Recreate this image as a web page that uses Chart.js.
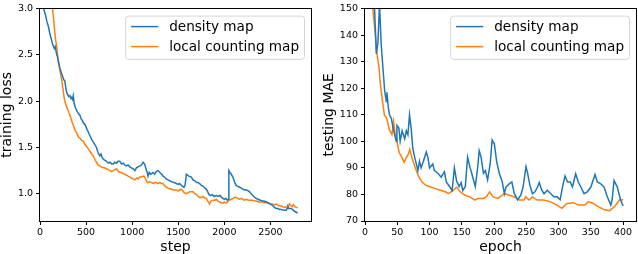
<!DOCTYPE html>
<html>
<head>
<meta charset="utf-8">
<script src="https://cdn.jsdelivr.net/npm/chart.js@4.4.1/dist/chart.umd.min.js"></script>
<style>
  html, body { margin: 0; padding: 0; background: #fff; }
  #wrap { position: relative; width: 638px; height: 254px; overflow: hidden; }
  #lossChart { position: absolute; left: 0; top: 0; }
  #maeChart { position: absolute; left: 318px; top: 0; }
</style>
</head>
<body>
<div id="wrap">
  <canvas id="lossChart" width="318" height="254"></canvas>
  <canvas id="maeChart" width="320" height="254"></canvas>
</div>
<script>
// series names
const seriesNames = ['density map', 'local counting map'];
const seriesColors = ['#1f77b4', '#ff7f0e'];

// left panel: training loss vs step, [step, loss]
const densityLoss = [
  [0,3.30],[20,3.12],[40,3.00],[60,2.93],[75,2.86],[90,2.81],[105,2.74],[120,2.68],[135,2.62],[144,2.60],
  [155,2.57],[165,2.59],[180,2.51],[195,2.46],[205,2.41],[216,2.36],[230,2.31],[245,2.27],[258,2.23],[270,2.22],
  [280,2.14],[289,2.10],[300,2.07],[312,2.05],[325,2.06],[335,2.03],[343,2.04],[352,2.02],[361,2.06],[370,1.98],
  [380,1.94],[397,1.90],[410,1.88],[422,1.86],[433,1.85],[445,1.81],[460,1.79],[475,1.76],[487,1.75],[500,1.72],
  [512,1.69],[523,1.67],[535,1.64],[550,1.61],[565,1.58],[577,1.56],[590,1.54],[600,1.52],[613,1.50],[625,1.46],
  [637,1.43],[649,1.41],[662,1.43],[675,1.39],[690,1.37],[705,1.36],[721,1.35],[740,1.33],[760,1.34],[778,1.32],
  [794,1.32],[810,1.34],[830,1.33],[845,1.35],[866,1.35],[885,1.32],[905,1.33],[920,1.31],[938,1.30],[955,1.31],
  [975,1.29],[990,1.28],[1010,1.27],[1030,1.25],[1046,1.28],[1065,1.29],[1085,1.30],[1100,1.31],[1118,1.34],[1135,1.32],
  [1150,1.27],[1165,1.22],[1172,1.19],[1185,1.23],[1200,1.21],[1215,1.22],[1227,1.23],[1245,1.21],[1260,1.24],[1281,1.25],
  [1300,1.23],[1320,1.21],[1335,1.19],[1350,1.18],[1370,1.16],[1390,1.15],[1407,1.14],[1425,1.13],[1445,1.12],[1460,1.12],
  [1479,1.11],[1500,1.10],[1515,1.11],[1533,1.09],[1548,1.08],[1562,1.07],[1575,1.10],[1588,1.21],[1600,1.20],[1615,1.19],
  [1642,1.18],[1660,1.15],[1680,1.14],[1700,1.12],[1715,1.12],[1732,1.11],[1750,1.09],[1770,1.08],[1790,1.06],[1804,1.05],
  [1820,1.02],[1835,0.99],[1850,0.98],[1870,0.99],[1890,0.97],[1913,0.98],[1935,0.97],[1955,0.98],[1970,0.96],[1985,0.95],
  [2000,0.94],[2015,0.95],[2031,0.93],[2042,0.94],[2049,1.25],[2060,1.23],[2075,1.21],[2092,1.18],[2110,1.13],[2128,1.09],
  [2145,1.08],[2165,1.07],[2185,1.06],[2200,1.05],[2220,1.04],[2240,1.04],[2260,1.03],[2273,1.02],[2290,1.00],[2310,0.98],
  [2330,0.96],[2345,0.95],[2365,0.94],[2390,0.93],[2410,0.92],[2430,0.92],[2453,0.91],[2475,0.90],[2495,0.89],[2515,0.88],
  [2535,0.86],[2561,0.84],[2580,0.84],[2600,0.83],[2620,0.83],[2645,0.82],[2670,0.82],[2682,0.84],[2690,0.86],[2700,0.84],
  [2720,0.84],[2740,0.83],[2760,0.81],[2780,0.80],[2796,0.79]
];
const localLoss = [
  [120,3.20],[137,3.00],[150,2.86],[160,2.75],[170,2.66],[180,2.60],[190,2.50],[198,2.42],[210,2.36],[222,2.30],
  [234,2.24],[245,2.16],[255,2.09],[263,2.03],[275,1.98],[289,1.94],[300,1.91],[312,1.88],[325,1.85],[340,1.80],
  [350,1.77],[361,1.74],[375,1.70],[385,1.68],[397,1.66],[410,1.63],[420,1.61],[433,1.60],[450,1.58],[469,1.57],
  [485,1.54],[505,1.51],[520,1.49],[541,1.46],[555,1.44],[565,1.42],[577,1.41],[590,1.38],[600,1.36],[613,1.34],
  [630,1.31],[649,1.30],[665,1.29],[685,1.28],[700,1.28],[721,1.27],[740,1.26],[760,1.25],[775,1.24],[794,1.25],
  [812,1.26],[830,1.27],[850,1.24],[868,1.23],[884,1.23],[900,1.22],[920,1.21],[940,1.20],[956,1.19],[975,1.18],
  [990,1.17],[1010,1.16],[1030,1.15],[1050,1.17],[1065,1.16],[1082,1.18],[1100,1.18],[1118,1.19],[1130,1.19],[1145,1.16],
  [1160,1.13],[1172,1.12],[1190,1.13],[1210,1.12],[1230,1.11],[1245,1.12],[1263,1.12],[1280,1.11],[1300,1.12],[1320,1.11],
  [1335,1.11],[1350,1.09],[1370,1.07],[1390,1.06],[1407,1.05],[1425,1.05],[1445,1.04],[1460,1.04],[1479,1.04],[1500,1.03],
  [1515,1.04],[1533,1.05],[1550,1.03],[1565,1.01],[1588,1.00],[1605,1.01],[1625,1.02],[1645,1.02],[1660,1.02],[1680,1.00],
  [1700,0.99],[1715,0.97],[1732,0.96],[1750,0.96],[1770,0.97],[1790,0.95],[1804,0.95],[1820,0.92],[1840,0.89],[1855,0.92],
  [1875,0.93],[1895,0.93],[1913,0.94],[1930,0.92],[1950,0.91],[1970,0.90],[1985,0.90],[2000,0.91],[2020,0.90],[2040,0.92],
  [2057,0.93],[2075,0.94],[2095,0.95],[2110,0.96],[2128,0.96],[2145,0.95],[2165,0.94],[2185,0.95],[2200,0.94],[2220,0.93],
  [2240,0.94],[2260,0.93],[2285,0.93],[2309,0.93],[2330,0.92],[2350,0.92],[2375,0.91],[2400,0.91],[2417,0.91],[2440,0.90],
  [2460,0.91],[2480,0.90],[2500,0.89],[2525,0.89],[2545,0.88],[2565,0.89],[2590,0.87],[2610,0.87],[2633,0.86],[2650,0.85],
  [2665,0.86],[2680,0.85],[2695,0.87],[2706,0.89],[2720,0.87],[2735,0.86],[2750,0.88],[2765,0.86],[2780,0.85],[2796,0.85]
];
const lossXTicks = [0, 500, 1000, 1500, 2000, 2500];
const lossYTicks = [1.0, 1.5, 2.0, 2.5, 3.0];

// right panel: testing MAE vs epoch, [epoch, mae]
const densityMae = [
  [5,190],[10,165],[15,149],[17.5,133],[20,137],[22.5,152],[25,137],[28,127],[30.5,119],[33,115],
  [34,118.5],[36,113],[38,110],[41,108.5],[43.5,105],[46,102.5],[48.5,100],[49.5,106],[52.5,105],[54.5,100],
  [57.5,104],[61.5,101],[64,104],[66.5,102.5],[69,110],[71.5,105],[74,97.5],[77,94],[79.5,91.5],[82,89],
  [84.5,92.5],[87,90],[90.5,92.5],[95,96],[97.5,94],[100,90],[105,91.5],[107.5,89],[113,88],[118,86.5],
  [123,88.5],[126,84.7],[131,83],[135,81.5],[138.5,90],[142,85],[146,83],[149,84.5],[151.5,81.5],[155.5,83],
  [159,94],[163,90],[167,86.5],[171,83],[174.5,90],[177,96.5],[180,94],[183.5,88],[186.5,89],[190,85.5],
  [194,91.5],[197,100.5],[200.5,99],[204,92.5],[208,88],[212.5,85],[216,80.3],[218.5,82.8],[223.5,84],[227.5,84.7],
  [231.5,80.3],[236.5,78],[241.5,79.7],[245,82.8],[249.5,90.5],[252,88],[255.5,83.5],[259.5,80.3],[263.5,81],[267.5,82.8],
  [270,84.5],[274,81.6],[277.5,80.3],[282.5,81.6],[288,80.3],[293,79.1],[298,79.1],[302.5,78],[306,82.8],[310,87],
  [314,84.7],[318,84.7],[321.5,82.8],[326.5,87.8],[330.5,84.7],[334.5,82.8],[339.5,80.3],[344.5,81],[350,82.8],[356.5,87.5],
  [360,84.7],[365.5,84],[370.5,82.8],[375.5,79.1],[381,76],[383,78],[386,85.3],[391,82.8],[396,78],[400,75.7]
];
const localMae = [
  [5,185],[9,162],[12.3,149.5],[16.3,139.6],[18.3,133.4],[21.4,128.5],[23.5,122.3],[26.6,116.1],[30,110],[33.6,108.7],
  [37.8,104.4],[41.8,102.6],[44.3,107.5],[46.9,102.6],[49.5,100],[53,95.8],[57.2,94],[60.7,92.1],[64.2,94],[67.2,95.2],
  [69.4,97],[72.5,94],[76,91.5],[79.5,89],[83.5,86.5],[88.6,84.7],[93.9,83.5],[101.5,82.8],[109,82.2],[116.7,81.6],
  [124.5,81],[129.5,80.3],[137,81.6],[142.2,82.8],[147.4,81],[155,79.7],[162.6,79.1],[170.3,77.9],[175.3,78.5],[183,78.5],
  [188,79.1],[193.2,81],[198.3,79.1],[206,78.5],[216,80.3],[223.8,79.7],[231.4,79.1],[239,77.9],[246.6,77.9],[249,79.1],
  [254.4,77.9],[259.4,79.1],[267,77.9],[277,77.9],[287,77.3],[297.6,76],[305.2,74.8],[312.8,76.6],[323,76.9],[330.7,76],
  [340.8,76],[346,77.3],[353.6,76.6],[361.3,75.4],[371.4,74.2],[379,73.9],[386.7,75.4],[394.3,77.9],[400,78]
];
const maeXTicks = [0, 50, 100, 150, 200, 250, 300, 350, 400];
const maeYTicks = [70, 80, 90, 100, 110, 120, 130, 140, 150];

const FONT = 'DejaVu Sans';

// matplotlib style legend box in upper right corner
const boxLegend = {
  id: 'boxLegend',
  afterDraw(chart) {
    const ctx = chart.ctx;
    const area = chart.chartArea;
    const fs = 13.6;
    const pad = 0.4 * fs, handle = 2 * fs, gap = 0.8 * fs;
    ctx.save();
    ctx.font = fs + 'px "' + FONT + '"';
    const labels = chart.data.datasets.map(d => d.label);
    const textW = Math.max(...labels.map(l => ctx.measureText(l).width));
    const w = pad * 2 + handle + gap + textW;
    const h = 43.3;
    const x = area.right - 6.5 - w;
    const y = area.top + 7.4;
    ctx.beginPath();
    ctx.roundRect(x, y, w, h, 3);
    ctx.fillStyle = 'rgba(255,255,255,0.8)';
    ctx.fill();
    ctx.strokeStyle = 'rgba(204,204,204,0.8)';
    ctx.lineWidth = 1;
    ctx.stroke();
    chart.data.datasets.forEach((d, i) => {
      const cy = y + 10.5 + i * 20;
      ctx.beginPath();
      ctx.moveTo(x + pad, cy);
      ctx.lineTo(x + pad + handle, cy);
      ctx.strokeStyle = d.borderColor;
      ctx.lineWidth = 1.5;
      ctx.stroke();
      ctx.fillStyle = '#000';
      ctx.textBaseline = 'middle';
      ctx.fillText(d.label, x + pad + handle + gap, cy + 1);
    });
    ctx.restore();
  }
};

// black frame around plot area
const frame = {
  id: 'frame',
  afterDatasetsDraw(chart) {
    const a = chart.chartArea;
    const ctx = chart.ctx;
    ctx.save();
    ctx.strokeStyle = '#000';
    ctx.lineWidth = 1;
    ctx.strokeRect(Math.round(a.left) - 0.5, Math.round(a.top) - 0.5,
      Math.round(a.right) - Math.round(a.left) + 1, Math.round(a.bottom) - Math.round(a.top) + 1);
    ctx.restore();
  }
};

function makeChart(id, series, xRange, yRange, xTicks, yTicks, xTitle, yTitle, yWidth, padRight, yTitlePad, fmt) {
  return new Chart(document.getElementById(id), {
    type: 'line',
    data: {
      datasets: series.map((s, i) => ({
        label: seriesNames[i],
        data: s.map(p => ({ x: p[0], y: p[1] })),
        borderColor: seriesColors[i],
        backgroundColor: seriesColors[i],
        borderWidth: 1.5,
        pointRadius: 0,
        tension: 0,
        fill: false
      }))
    },
    options: {
      responsive: false,
      animation: false,
      events: [],
      layout: { padding: { top: 5, right: padRight, left: 0, bottom: 0 } },
      plugins: { legend: { display: false }, tooltip: { enabled: false } },
      scales: {
        x: {
          type: 'linear',
          min: xRange[0],
          max: xRange[1],
          afterBuildTicks: s => { s.ticks = xTicks.map(v => ({ value: v })); },
          afterFit: s => { s.height = 33; },
          border: { display: false },
          grid: { drawOnChartArea: false, tickLength: 4, color: '#000' },
          ticks: { color: '#000', padding: 2, maxRotation: 0, font: { family: FONT, size: 9.5 }, callback: v => String(v) },
          title: { display: true, text: xTitle, color: '#000', padding: { top: 0, bottom: -2 }, font: { family: FONT, size: 14 } }
        },
        y: {
          type: 'linear',
          min: yRange[0],
          max: yRange[1],
          afterBuildTicks: s => { s.ticks = yTicks.map(v => ({ value: v })); },
          afterFit: s => { s.width = yWidth; },
          border: { display: false },
          grid: { drawOnChartArea: false, tickLength: 4, color: '#000' },
          ticks: { color: '#000', padding: 3, font: { family: FONT, size: 9.5 }, callback: fmt },
          title: { display: true, text: yTitle, color: '#000', padding: { top: yTitlePad, bottom: 0 }, font: { family: FONT, size: 14 } }
        }
      }
    },
    plugins: [frame, boxLegend]
  });
}

makeChart('lossChart', [densityLoss, localLoss], [0, 2940], [0.705, 3.0],
  lossXTicks, lossYTicks, 'step', 'training loss', 40, 7, -1, v => v.toFixed(1));
makeChart('maeChart', [densityMae, localMae], [0, 420], [70, 150],
  maeXTicks, maeYTicks, 'epoch', 'testing MAE', 47, 2, 3, v => String(v));
</script>
</body>
</html>
